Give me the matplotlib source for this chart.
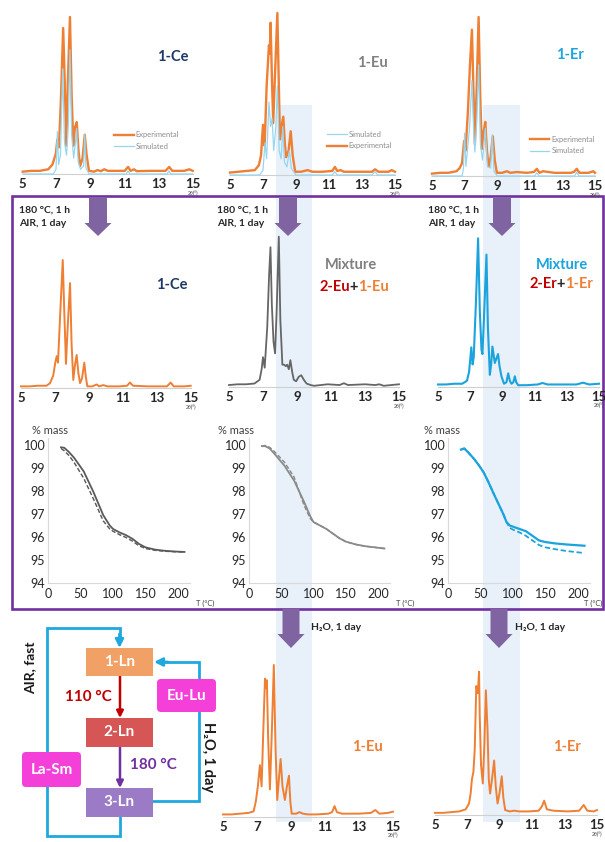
"""PXRD patterns, TGA curves and the 1-Ln / 2-Ln / 3-Ln conversion scheme."""
import matplotlib.pyplot as plt
from matplotlib.patches import Rectangle, FancyArrow, FancyBboxPatch

# ---------------- data ----------------
XRD_TICKS = [5, 7, 9, 11, 13, 15]
TGA_XTICKS = [0, 50, 100, 150, 200]
TGA_YTICKS = [94, 95, 96, 97, 98, 99, 100]

# top row: as-synthesised 1-Ln, experimental vs simulated (2theta, rel. intensity)
CE_EXP_TT = [5.0, 5.5, 6.0, 6.5, 6.75, 6.95, 7.04, 7.13, 7.24, 7.38, 7.47, 7.56, 7.66, 7.78,
             7.88, 7.98, 8.08, 8.18, 8.28, 8.38, 8.52, 8.65, 8.76, 8.9, 9.2, 9.4, 9.6, 9.8,
             10.0, 10.5, 11.0, 11.2, 11.35, 11.55, 11.7, 12.5, 13.4, 13.62, 13.8, 14.5, 14.8, 15.0]
CE_EXP_I = [0.015, 0.02, 0.02, 0.03, 0.06, 0.13, 0.22, 0.17, 0.45, 0.93, 0.6, 0.18, 0.6, 1.0,
            0.5, 0.18, 0.3, 0.33, 0.15, 0.05, 0.1, 0.25, 0.12, 0.02, 0.015, 0.025, 0.018, 0.03,
            0.02, 0.02, 0.02, 0.045, 0.02, 0.03, 0.018, 0.02, 0.02, 0.045, 0.02, 0.02, 0.03, 0.02]
CE_SIM_TT = [5.0, 6.8, 6.96, 7.04, 7.11, 7.22, 7.35, 7.46, 7.58, 7.68, 7.78, 7.88, 8.0, 8.1,
             8.17, 8.26, 8.4, 8.58, 8.65, 8.72, 8.9, 11.1, 11.2, 11.3, 13.5, 13.6, 13.7, 15.0]
CE_SIM_I = [0.0, 0.0, 0.03, 0.27, 0.06, 0.12, 0.67, 0.2, 0.12, 0.3, 0.79, 0.25, 0.1, 0.2,
            0.29, 0.08, 0.03, 0.05, 0.25, 0.04, 0.0, 0.0, 0.02, 0.0, 0.0, 0.02, 0.0, 0.0]

EU_EXP_TT = [5.0, 5.5, 6.0, 6.5, 6.75, 6.88, 7.0, 7.1, 7.22, 7.36, 7.41, 7.46, 7.54, 7.62,
             7.72, 7.87, 7.96, 8.03, 8.12, 8.23, 8.32, 8.4, 8.55, 8.68, 8.8, 8.95, 9.3, 9.7,
             10.0, 10.6, 11.2, 11.36, 11.5, 11.7, 11.9, 12.8, 13.6, 13.79, 14.0, 14.6, 14.8, 15.0]
EU_EXP_I = [0.015, 0.02, 0.025, 0.03, 0.06, 0.12, 0.31, 0.18, 0.55, 0.8, 0.75, 0.94, 0.6, 0.32,
            0.6, 1.0, 0.55, 0.22, 0.3, 0.36, 0.2, 0.11, 0.15, 0.27, 0.12, 0.02, 0.02, 0.03,
            0.02, 0.02, 0.025, 0.05, 0.025, 0.03, 0.02, 0.02, 0.02, 0.035, 0.02, 0.02, 0.03, 0.02]
EU_SIM_TT = [5.0, 6.8, 7.0, 7.12, 7.22, 7.36, 7.46, 7.55, 7.65, 7.78, 7.87, 7.98, 8.1, 8.2,
             8.3, 8.45, 8.6, 8.72, 9.0, 11.2, 11.35, 11.5, 13.6, 13.78, 13.95, 15.0]
EU_SIM_I = [0.0, 0.0, 0.03, 0.2, 0.1, 0.45, 0.3, 0.35, 0.15, 0.3, 0.55, 0.15, 0.1, 0.3,
            0.08, 0.05, 0.15, 0.04, 0.0, 0.0, 0.02, 0.0, 0.0, 0.02, 0.0, 0.0]

ER_EXP_TT = [5.0, 5.5, 6.0, 6.5, 6.7, 6.84, 6.97, 7.06, 7.2, 7.33, 7.45, 7.54, 7.63, 7.74,
             7.86, 7.96, 8.06, 8.17, 8.27, 8.37, 8.47, 8.6, 8.73, 8.85, 8.98, 9.3, 9.6, 9.8,
             10.2, 10.8, 11.25, 11.43, 11.6, 11.8, 12.5, 13.5, 13.7, 13.88, 14.05, 14.6, 14.9, 15.0]
ER_EXP_I = [0.015, 0.02, 0.02, 0.03, 0.05, 0.08, 0.22, 0.16, 0.4, 0.7, 0.92, 0.55, 0.2, 0.55,
            1.0, 0.5, 0.17, 0.28, 0.34, 0.16, 0.06, 0.12, 0.25, 0.1, 0.02, 0.02, 0.03, 0.02,
            0.025, 0.02, 0.025, 0.045, 0.02, 0.03, 0.02, 0.02, 0.025, 0.045, 0.02, 0.02, 0.03, 0.02]
ER_SIM_TT = [5.0, 6.85, 6.93, 7.0, 7.08, 7.3, 7.45, 7.55, 7.63, 7.75, 7.86, 7.97, 8.1, 8.27,
             8.4, 8.6, 8.7, 8.8, 9.0, 11.3, 11.43, 11.55, 13.75, 13.88, 14.0, 15.0]
ER_SIM_I = [0.0, 0.0, 0.05, 0.27, 0.06, 0.3, 0.6, 0.3, 0.15, 0.35, 0.7, 0.2, 0.1, 0.3,
            0.06, 0.05, 0.26, 0.03, 0.0, 0.0, 0.02, 0.0, 0.0, 0.025, 0.0, 0.0]

# middle row: after 180 C, 1 h + air, 1 day
CE_HEAT_TT = [5.0, 5.5, 6.0, 6.5, 6.71, 6.9, 7.02, 7.1, 7.18, 7.3, 7.46, 7.55, 7.65, 7.76,
              7.89, 7.98, 8.08, 8.18, 8.28, 8.38, 8.48, 8.6, 8.73, 8.82, 8.91, 9.2, 9.46, 9.6,
              9.85, 10.1, 10.8, 11.25, 11.42, 11.6, 12.5, 13.6, 13.82, 14.0, 14.6, 15.0]
CE_HEAT_I = [0.015, 0.015, 0.02, 0.02, 0.04, 0.1, 0.2, 0.25, 0.2, 0.55, 1.0, 0.6, 0.19, 0.5,
             0.82, 0.35, 0.065, 0.18, 0.26, 0.12, 0.04, 0.08, 0.2, 0.09, 0.015, 0.015, 0.03, 0.015,
             0.025, 0.015, 0.015, 0.02, 0.045, 0.02, 0.015, 0.015, 0.045, 0.015, 0.015, 0.02]
EU_MIX_TT = [5.0, 5.5, 6.0, 6.5, 6.8, 6.92, 7.0, 7.1, 7.25, 7.36, 7.44, 7.52, 7.62, 7.71,
             7.8, 7.93, 8.02, 8.14, 8.25, 8.34, 8.42, 8.52, 8.61, 8.72, 8.81, 8.95, 9.1, 9.25,
             9.4, 9.56, 9.8, 10.0, 10.8, 11.5, 11.76, 12.0, 13.0, 13.6, 13.84, 14.1, 15.0]
EU_MIX_I = [0.015, 0.02, 0.02, 0.025, 0.05, 0.12, 0.2, 0.13, 0.4, 0.75, 0.93, 0.55, 0.3, 0.225,
            0.5, 1.0, 0.45, 0.15, 0.15, 0.14, 0.15, 0.12, 0.18, 0.1, 0.05, 0.04, 0.07, 0.08,
            0.05, 0.025, 0.015, 0.01, 0.02, 0.015, 0.027, 0.015, 0.02, 0.015, 0.02, 0.01, 0.02]
ER_MIX_TT = [5.0, 5.5, 6.0, 6.5, 6.8, 6.93, 7.07, 7.15, 7.22, 7.35, 7.49, 7.6, 7.7, 7.76,
             7.85, 8.01, 8.1, 8.22, 8.3, 8.38, 8.53, 8.73, 8.82, 8.94, 9.1, 9.25, 9.36, 9.46,
             9.56, 9.68, 9.77, 9.86, 9.98, 10.5, 11.2, 11.49, 11.8, 12.8, 13.6, 14.0, 14.4, 15.0]
ER_MIX_I = [0.015, 0.015, 0.02, 0.02, 0.04, 0.1, 0.265, 0.15, 0.2, 0.55, 1.0, 0.5, 0.25, 0.22,
            0.45, 0.89, 0.4, 0.08, 0.15, 0.27, 0.16, 0.22, 0.14, 0.07, 0.02, 0.03, 0.09, 0.04,
            0.02, 0.03, 0.07, 0.03, 0.01, 0.01, 0.015, 0.025, 0.015, 0.015, 0.015, 0.027, 0.015, 0.02]

# bottom row: after H2O, 1 day
EU_WAT_TT = [5.0, 5.5, 6.0, 6.5, 6.8, 6.93, 7.05, 7.17, 7.27, 7.38, 7.47, 7.52, 7.58, 7.66,
             7.76, 7.87, 7.99, 8.09, 8.19, 8.29, 8.39, 8.5, 8.64, 8.76, 8.88, 8.96, 9.04, 9.3,
             9.5, 9.7, 10.0, 10.5, 11.2, 11.42, 11.56, 11.7, 12.0, 13.0, 13.7, 13.96, 14.2, 14.7, 15.0]
EU_WAT_I = [0.015, 0.015, 0.02, 0.025, 0.035, 0.1, 0.2, 0.34, 0.2, 0.6, 0.91, 0.85, 0.9, 0.5,
            0.18, 0.55, 1.0, 0.45, 0.11, 0.25, 0.38, 0.2, 0.11, 0.2, 0.27, 0.1, 0.02, 0.02,
            0.03, 0.02, 0.015, 0.015, 0.02, 0.03, 0.07, 0.03, 0.02, 0.02, 0.025, 0.044, 0.02, 0.025, 0.033]
ER_WAT_TT = [5.0, 5.5, 6.0, 6.5, 6.9, 7.1, 7.2, 7.28, 7.37, 7.45, 7.55, 7.64, 7.72, 7.76,
             7.84, 7.95, 8.05, 8.14, 8.24, 8.32, 8.4, 8.52, 8.65, 8.75, 8.86, 8.98, 9.12, 9.22,
             9.33, 9.6, 9.9, 10.2, 10.8, 11.4, 11.6, 11.74, 11.9, 12.3, 13.2, 13.9, 14.18, 14.4, 14.8, 15.0]
ER_WAT_I = [0.015, 0.015, 0.02, 0.025, 0.04, 0.08, 0.15, 0.25, 0.3, 0.45, 0.9, 0.85, 1.0, 0.7,
            0.35, 0.22, 0.5, 0.87, 0.6, 0.25, 0.15, 0.25, 0.38, 0.2, 0.08, 0.15, 0.27, 0.12,
            0.035, 0.025, 0.03, 0.025, 0.025, 0.03, 0.06, 0.1, 0.04, 0.03, 0.025, 0.03, 0.07, 0.03, 0.025, 0.035]

# TGA (% mass vs T in C), solid and dashed runs
TGA_T = [20, 25, 32, 40, 55, 70, 85, 95, 100, 110, 120, 130, 140, 150, 165, 180, 195, 210]
CE_TGA_SOLID = [99.9, 99.88, 99.7, 99.45, 98.85, 97.95, 96.95, 96.5, 96.35, 96.2, 96.08, 95.92,
                95.7, 95.55, 95.45, 95.4, 95.37, 95.35]
CE_TGA_DASH = [99.85, 99.75, 99.55, 99.25, 98.55, 97.65, 96.7, 96.35, 96.25, 96.1, 95.98, 95.82,
               95.62, 95.5, 95.42, 95.38, 95.36, 95.35]
EU_TGA_SOLID = [99.95, 99.95, 99.85, 99.6, 99.1, 98.45, 97.55, 96.9, 96.65, 96.5, 96.35, 96.15,
                95.95, 95.8, 95.68, 95.6, 95.55, 95.5]
EU_TGA_DASH = [99.95, 99.98, 99.9, 99.7, 99.25, 98.6, 97.4, 96.8, 96.65, 96.5, 96.35, 96.15,
               95.95, 95.8, 95.68, 95.6, 95.55, 95.5]
ER_TGA_T = [20, 25, 32, 40, 48, 55, 62, 70, 85, 90, 95, 100, 110, 120, 130, 140, 150, 165, 180, 195, 210]
ER_TGA_SOLID = [99.8, 99.85, 99.65, 99.4, 99.1, 98.8, 98.4, 97.9, 97.0, 96.65, 96.5, 96.45, 96.35,
                96.25, 96.05, 95.85, 95.78, 95.72, 95.68, 95.65, 95.62]
ER_TGA_DASH = [99.8, 99.85, 99.65, 99.4, 99.1, 98.8, 98.4, 97.9, 97.0, 96.65, 96.4, 96.32, 96.2,
               96.05, 95.85, 95.65, 95.55, 95.47, 95.4, 95.35, 95.3]

# ---------------- styling ----------------
W, H = 605, 842
ORANGE = "#EE7F33"
SIM_CYAN = "#98D6F0"
MIX_GRAY = "#666666"
MIX_BLUE = "#1AA3DD"
NAVY = "#1F3864"
DARK_RED = "#C00000"
PURPLE = "#7030A0"
ARROW_PURPLE = "#8064A2"
BAND = "#E8F0F9"
LOOP_CYAN = "#1FA7E0"
MAGENTA = "#F43FD9"

plt.rcParams["font.family"] = ["Lato", "DejaVu Sans"]

fig = plt.figure(figsize=(W / 100, H / 100), dpi=100)
bg = fig.add_axes([0, 0, 1, 1])
bg.set_xlim(0, W)
bg.set_ylim(H, 0)
bg.axis("off")


def px_axes(x0, x1, ytop, ybot):
    ax = fig.add_axes([x0 / W, 1 - ybot / H, (x1 - x0) / W, (ybot - ytop) / H])
    ax.patch.set_visible(False)
    return ax


def xrd_axes(x0, x1, ytop, ybot):
    ax = px_axes(x0, x1, ytop, ybot)
    ax.set_xlim(5, 15)
    ax.set_ylim(0, 1)
    for side in ("top", "right", "left"):
        ax.spines[side].set_visible(False)
    ax.spines["bottom"].set_color("#D0D0D0")
    ax.spines["bottom"].set_linewidth(0.8)
    ax.set_yticks([])
    ax.set_xticks(XRD_TICKS)
    ax.tick_params(axis="x", length=0, pad=3, labelsize=9.5, labelcolor="#262626")
    for lab in ax.get_xticklabels():
        lab.set_fontweight("bold")
    ax.annotate("2θ(°)", xy=(15, 0), xytext=(0, -19), textcoords="offset pixels",
                ha="center", va="center", fontsize=3.5, color="#404040")
    return ax


def tga_axes(x0, x1):
    ax = px_axes(x0, x1, 438.1, 583)
    ax.set_xlim(0, 218)
    ax.set_ylim(94, 100.3)
    for side in ("top", "right"):
        ax.spines[side].set_visible(False)
    for side in ("left", "bottom"):
        ax.spines[side].set_color("#D9D9D9")
        ax.spines[side].set_linewidth(0.8)
    ax.set_xticks(TGA_XTICKS)
    ax.set_yticks(TGA_YTICKS)
    ax.tick_params(length=0, labelsize=9, labelcolor="#262626")
    ax.tick_params(axis="y", pad=2)
    ax.tick_params(axis="x", pad=3.5)
    return ax


# light blue bands behind columns 2 and 3
for bx0, bx1 in [(276, 312), (483, 520)]:
    bg.add_patch(Rectangle((bx0, 105), bx1 - bx0, 717, color=BAND, lw=0, zorder=0))

# purple frame
bg.add_patch(Rectangle((12, 196), 591, 413, fill=False, ec=PURPLE, lw=1.9, zorder=3))

# fat arrows
for ax_x in [98, 288, 502]:
    bg.add_patch(FancyArrow(ax_x, 197, 0, 39, width=18, head_width=27, head_length=13,
                            length_includes_head=True, color=ARROW_PURPLE, lw=0, zorder=4))
for ax_x in [291, 499]:
    bg.add_patch(FancyArrow(ax_x, 609, 0, 39, width=17, head_width=27, head_length=14,
                            length_includes_head=True, color=ARROW_PURPLE, lw=0, zorder=4))

# ---- top row ----
top_panels = [
    ((22.7, 192.7, 17, 174), CE_EXP_TT, CE_EXP_I, CE_SIM_TT, CE_SIM_I, ["exp", "sim"], (0.52, 0.29)),
    ((230, 395, 13, 175), EU_EXP_TT, EU_EXP_I, EU_SIM_TT, EU_SIM_I, ["sim", "exp"], (0.57, 0.29)),
    ((432, 595, 17, 176), ER_EXP_TT, ER_EXP_I, ER_SIM_TT, ER_SIM_I, ["exp", "sim"], (0.58, 0.27)),
]
for box, ett, ei, stt, si, order, anchor in top_panels:
    ax = xrd_axes(*box)
    h_exp, = ax.plot(ett, ei, color=ORANGE, lw=1.7, clip_on=False, label="Experimental", zorder=2)
    h_sim, = ax.plot(stt, si, color=SIM_CYAN, lw=0.9, clip_on=False, label="Simulated", zorder=3)
    handles = {"exp": h_exp, "sim": h_sim}
    leg = ax.legend([handles[k] for k in order], [handles[k].get_label() for k in order],
                    loc="upper left", bbox_to_anchor=anchor, frameon=False, fontsize=5.4,
                    handlelength=2.6, handletextpad=0.3, labelspacing=0.55, borderaxespad=0)
    for t in leg.get_texts():
        t.set_color("#8C8C8C")

title_kw = dict(ha="center", va="center", fontsize=10.5, fontweight="bold")
bg.text(173, 57, "1-Ce", color=NAVY, **title_kw)
bg.text(372, 63, "1-Eu", color="#808080", **title_kw)
bg.text(570, 55, "1-Er", color=MIX_BLUE, **title_kw)

# ---- middle row ----
ax = xrd_axes(21, 190.7, 260, 388.3)
ax.plot(CE_HEAT_TT, CE_HEAT_I, color=ORANGE, lw=1.4, clip_on=False)
ax = xrd_axes(229, 399, 236.7, 387.3)
ax.plot(EU_MIX_TT, EU_MIX_I, color=MIX_GRAY, lw=1.3, clip_on=False)
ax = xrd_axes(438, 599, 238.3, 386.7)
ax.plot(ER_MIX_TT, ER_MIX_I, color=MIX_BLUE, lw=1.5, clip_on=False)

cond_kw = dict(ha="left", va="center", fontsize=7.5, fontweight="bold", color="#262626")
for cx in [19, 217, 428]:
    bg.text(cx, 210, "180 °C, 1 h", **cond_kw)
    bg.text(cx, 224, "AIR, 1 day", **cond_kw)

bg.text(172, 285, "1-Ce", color=NAVY, **title_kw)
bg.text(351, 265, "Mixture", color="#808080", **title_kw)
bg.text(562, 265, "Mixture", color=MIX_BLUE, **title_kw)


def two_part(cx, y, left, right):
    bg.text(cx, y, "+", color="#262626", **title_kw)
    bg.text(cx - 4.2, y, left, color=DARK_RED, ha="right", va="center", fontsize=10.5, fontweight="bold")
    bg.text(cx + 4.2, y, right, color=ORANGE, ha="left", va="center", fontsize=10.5, fontweight="bold")


two_part(354, 287, "2-Eu", "1-Eu")
two_part(561, 284, "2-Er", "1-Er")

# ---- TGA row ----
tga_panels = [
    (48, 189.7, TGA_T, CE_TGA_SOLID, CE_TGA_DASH, "#5A5A5A", 1.3, 32, 205),
    (249, 389.6, TGA_T, EU_TGA_SOLID, EU_TGA_DASH, "#8A8A8A", 1.3, 218, 405),
    (448, 589.7, ER_TGA_T, ER_TGA_SOLID, ER_TGA_DASH, MIX_BLUE, 1.6, 424, 593),
]
for x0, x1, tt, solid, dash, col, lw, mx, tx in tga_panels:
    ax = tga_axes(x0, x1)
    ax.plot(tt, solid, color=col, lw=lw)
    ax.plot(tt, dash, color=col, lw=lw * 0.8, ls=(0, (3, 1.5)))
    bg.text(mx, 430, "% mass", ha="left", va="center", fontsize=8, color="#404040")
    bg.text(tx, 603, "T (°C)", ha="center", va="center", fontsize=5.3, color="#404040")

# ---- bottom row ----
ax = xrd_axes(223, 393, 665, 816.7)
ax.plot(EU_WAT_TT, EU_WAT_I, color=ORANGE, lw=1.4, clip_on=False)
ax = xrd_axes(435, 597, 671.7, 815)
ax.plot(ER_WAT_TT, ER_WAT_I, color=ORANGE, lw=1.4, clip_on=False)
bg.text(367, 747, "1-Eu", color=ORANGE, **title_kw)
bg.text(567, 747, "1-Er", color=ORANGE, **title_kw)
bg.text(311, 627, "H₂O, 1 day", ha="left", va="center", fontsize=7.5, fontweight="bold", color="#262626")
bg.text(515, 627, "H₂O, 1 day", ha="left", va="center", fontsize=7.5, fontweight="bold", color="#262626")

# ---- conversion scheme ----
loop_kw = dict(color=LOOP_CYAN, lw=2.0, solid_joinstyle="miter", zorder=3)
bg.plot([119.5, 119.5, 47, 47, 119.5, 119.5], [817, 836, 836, 628, 628, 636], **loop_kw)
bg.annotate("", xy=(119.5, 648), xytext=(119.5, 634),
            arrowprops=dict(arrowstyle="-|>", color=LOOP_CYAN, lw=2.0, mutation_scale=12,
                            shrinkA=0, shrinkB=0), zorder=3)
bg.plot([153, 199, 199, 166], [801, 801, 662, 662], **loop_kw)
bg.annotate("", xy=(154, 662), xytext=(168, 662),
            arrowprops=dict(arrowstyle="-|>", color=LOOP_CYAN, lw=2.0, mutation_scale=12,
                            shrinkA=0, shrinkB=0), zorder=3)

box_kw = dict(ha="center", va="center", fontsize=11, fontweight="bold", color="white", zorder=6)
for (y0, y1), col, name in [((648, 676), "#F2A166", "1-Ln"),
                            ((718, 747), "#D65656", "2-Ln"),
                            ((788, 817), "#9B7BC6", "3-Ln")]:
    bg.add_patch(Rectangle((86, y0), 67, y1 - y0, color=col, lw=0, zorder=5))
    bg.text(119.5, (y0 + y1) / 2, name, **box_kw)

for (x0, y0, w, h), name in [((157, 679, 59, 33), "Eu-Lu"), ((22, 752, 59, 35), "La-Sm")]:
    bg.add_patch(FancyBboxPatch((x0 + 4, y0 + 4), w - 8, h - 8, boxstyle="round,pad=4",
                                fc=MAGENTA, ec="none", zorder=5))
    bg.text(x0 + w / 2, y0 + h / 2, name, **box_kw)

bg.annotate("", xy=(120, 718), xytext=(120, 676),
            arrowprops=dict(arrowstyle="-|>", color=DARK_RED, lw=1.8, mutation_scale=10,
                            shrinkA=0, shrinkB=0), zorder=4)
bg.annotate("", xy=(120, 788), xytext=(120, 747),
            arrowprops=dict(arrowstyle="-|>", color=PURPLE, lw=1.8, mutation_scale=10,
                            shrinkA=0, shrinkB=0), zorder=4)
bg.text(112, 697, "110 °C", ha="right", va="center", fontsize=11, fontweight="bold", color=DARK_RED)
bg.text(130, 765, "180 °C", ha="left", va="center", fontsize=11, fontweight="bold", color=PURPLE)
bg.text(30, 668, "AIR, fast", rotation=90, ha="center", va="center", fontsize=10,
        fontweight="bold", color="#1A1A1A")
bg.text(208, 757, "H₂O, 1 day", rotation=-90, ha="center", va="center", fontsize=10.5,
        fontweight="bold", color="#1A1A1A")

fig.savefig("out.png", dpi=100)
